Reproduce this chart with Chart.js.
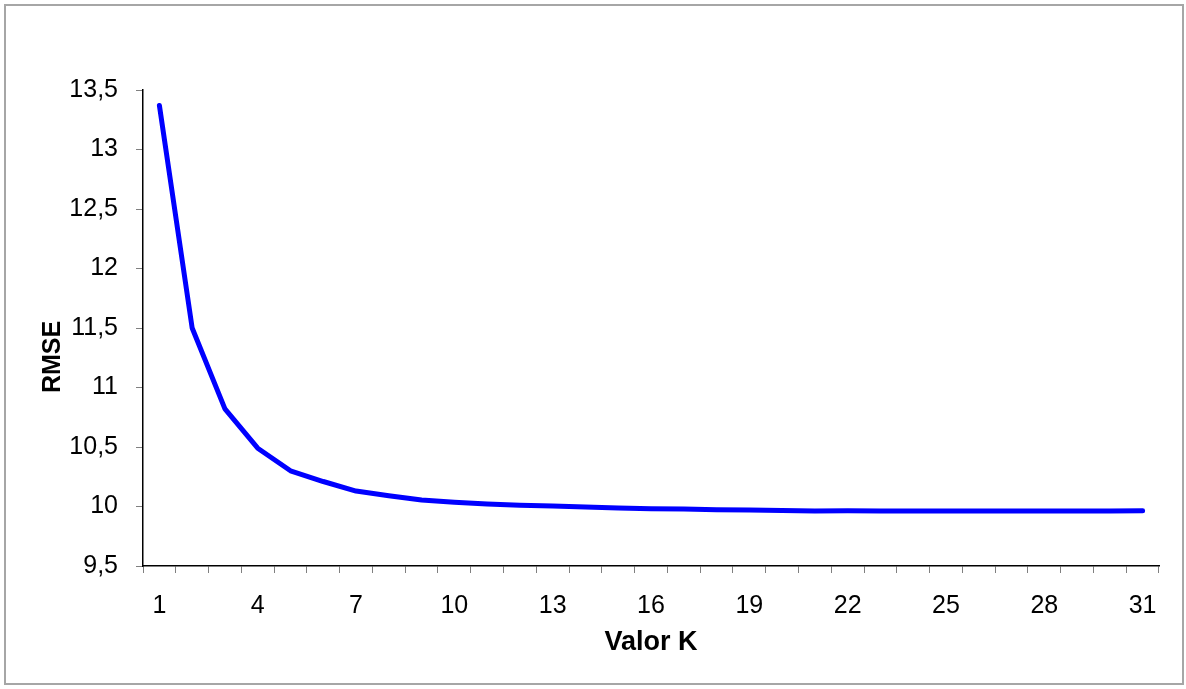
<!DOCTYPE html>
<html>
<head>
<meta charset="utf-8">
<script src="https://cdn.jsdelivr.net/npm/chart.js@4.4.1/dist/chart.umd.min.js"></script>
<style>
  html, body { margin: 0; padding: 0; background: #fff; }
  #wrap { position: absolute; left: 0; top: 0; width: 1186px; height: 689px; }
</style>
</head>
<body>
<div id="wrap"><canvas id="c" width="1186" height="689"></canvas></div>
<script>
const kValues = [1,2,3,4,5,6,7,8,9,10,11,12,13,14,15,16,17,18,19,20,21,22,23,24,25,26,27,28,29,30,31];
const rmse = [13.37, 11.50, 10.82, 10.49, 10.30, 10.21, 10.13, 10.09, 10.055, 10.035, 10.02, 10.01, 10.005,
              9.995, 9.988, 9.982, 9.978, 9.973, 9.97, 9.967, 9.963, 9.965, 9.962, 9.962, 9.962, 9.962,
              9.962, 9.962, 9.962, 9.962, 9.965];
const yTicksMin = 9.5;
const yTicksMax = 13.5;
const yStep = 0.5;
const xTitle = 'Valor K';
const yTitle = 'RMSE';

const FONT = '"Liberation Sans", Arial, sans-serif';

const framePlugin = {
  id: 'frame',
  beforeDraw(chart) {
    const ctx = chart.ctx;
    ctx.save();
    ctx.fillStyle = '#ffffff';
    ctx.fillRect(0, 0, chart.width, chart.height);
    ctx.strokeStyle = '#a6a6a6';
    ctx.lineWidth = 2;
    ctx.strokeRect(5, 5, 1178, 679);
    ctx.restore();
  },
  afterDraw(chart) {
    const ctx = chart.ctx;
    ctx.save();
    ctx.translate(53, 357);
    ctx.rotate(-Math.PI / 2);
    ctx.font = 'bold 25px ' + FONT;
    ctx.fillStyle = '#000';
    ctx.textAlign = 'center';
    ctx.textBaseline = 'middle';
    ctx.fillText(yTitle, 0, 0);
    ctx.restore();
  }
};

new Chart(document.getElementById('c'), {
  type: 'line',
  data: {
    labels: kValues.map(String),
    datasets: [{
      data: rmse,
      borderColor: '#0000ff',
      borderWidth: 5,
      borderCapStyle: 'round',
      borderJoinStyle: 'round',
      pointRadius: 0,
      tension: 0,
      fill: false
    }]
  },
  options: {
    responsive: false,
    animation: false,
    devicePixelRatio: 1,
    layout: { padding: { left: 0, top: 90, right: 27, bottom: 0 } },
    plugins: { legend: { display: false }, tooltip: { enabled: false } },
    scales: {
      x: {
        type: 'category',
        offset: true,
        grid: { offset: true, drawOnChartArea: false, tickLength: 7, tickColor: '#808080', lineWidth: 1 },
        border: { color: '#000', width: 1.5 },
        ticks: {
          autoSkip: false, maxRotation: 0, minRotation: 0,
          color: '#000', padding: 18,
          font: { family: FONT, size: 25 },
          callback: function(v, i) { return i % 3 === 0 ? this.getLabelForValue(v) : ''; }
        },
        title: { display: true, text: xTitle, color: '#000', font: { family: FONT, size: 27, weight: 'bold' }, padding: { top: 4, bottom: 30 } },
        afterFit(scale) { scale.height = 123; }
      },
      y: {
        min: yTicksMin, max: yTicksMax,
        grid: { drawOnChartArea: false, tickLength: 7, tickColor: '#808080', lineWidth: 1 },
        border: { color: '#000', width: 1.5 },
        ticks: {
          stepSize: yStep, color: '#000', padding: 18,
          font: { family: FONT, size: 25 },
          callback: v => String(Math.round(v * 10) / 10).replace('.', ',')
        },
        afterFit(scale) { scale.width = 143; }
      }
    }
  },
  plugins: [framePlugin]
});
</script>
</body>
</html>
